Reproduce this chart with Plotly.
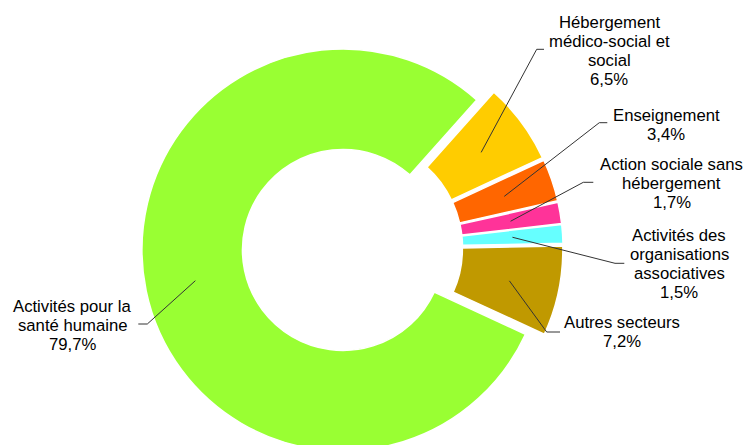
import math
import plotly.graph_objects as go

# ---- data ----
categories = [
    "Hébergement médico-social et social",
    "Enseignement",
    "Action sociale sans hébergement",
    "Activités des organisations associatives",
    "Autres secteurs",
    "Activités pour la santé humaine",
]
values = [6.5, 3.4, 1.7, 1.5, 7.2, 79.7]
value_labels = ["6,5%", "3,4%", "1,7%", "1,5%", "7,2%", "79,7%"]
label_lines = [
    ["Hébergement", "médico-social et", "social"],
    ["Enseignement"],
    ["Action sociale sans", "hébergement"],
    ["Activités des", "organisations", "associatives"],
    ["Autres secteurs"],
    ["Activités pour la", "santé humaine"],
]
colors = ["#FFCC00", "#FF6600", "#FF3399", "#66FFFF", "#C09900", "#99FF33"]

# ---- layout constants (pixels) ----
W, H = 745, 462
CX, CY = 352.4, 248.0
R = 201.0
HOLE = 0.5
PULL = 0.048
ROT = 41.7
LINE_H = 19.0
FONT = dict(family="Liberation Sans, Arial, sans-serif", size=16.7, color="#000000")

# label placement: (center x, first line center y, elbow x, elbow y, end x)
label_layout = [
    (609.0, 22.7, 536.7, 49.3, 544.0),
    (666.0, 115.0, 599.3, 122.7, 607.3),
    (671.5, 164.3, 583.3, 182.3, 593.3),
    (679.3, 235.0, 615.0, 263.3, 624.3),
    (622.0, 322.7, 546.7, 332.0, 560.0),
    (72.7, 306.0, 147.3, 324.0, 138.3),
]


def px(x):
    return x / W


def py(y):
    return 1 - y / H


half = R * (1 + PULL)
fig = go.Figure(
    go.Pie(
        labels=categories,
        values=values,
        sort=False,
        direction="clockwise",
        rotation=ROT,
        hole=HOLE,
        pull=PULL,
        marker=dict(colors=colors, line=dict(color="#FFFFFF", width=1.5)),
        textinfo="none",
        hoverinfo="label+percent",
        showlegend=False,
        domain=dict(
            x=[(CX - half) / W, (CX + half) / W],
            y=[max(0.0, 1 - (CY + half) / H), 1 - (CY - half) / H],
        ),
    )
)

total = sum(values)
cum = 0.0
annotations = []
shapes = []
for i, v in enumerate(values):
    mid = math.radians(ROT + 360.0 * (cum + v / 2) / total)
    cum += v
    dist = R * PULL + 0.75 * R
    sx = CX + dist * math.sin(mid)
    sy = CY - dist * math.cos(mid)
    lx, ly, ex, ey, endx = label_layout[i]
    shapes.append(
        dict(
            type="path",
            xref="paper",
            yref="paper",
            path=f"M {px(sx)} {py(sy)} L {px(ex)} {py(ey)} L {px(endx)} {py(ey)}",
            line=dict(color="#333333", width=1),
        )
    )
    lines = label_lines[i] + [value_labels[i]]
    for k, t in enumerate(lines):
        annotations.append(
            dict(
                text=t,
                x=px(lx),
                y=py(ly + k * LINE_H),
                xref="paper",
                yref="paper",
                xanchor="center",
                yanchor="middle",
                showarrow=False,
                font=FONT,
            )
        )

fig.update_layout(
    width=W,
    height=H,
    margin=dict(l=0, r=0, t=0, b=0),
    paper_bgcolor="#FFFFFF",
    plot_bgcolor="#FFFFFF",
    annotations=annotations,
    shapes=shapes,
)

fig.write_html(
    "out.html",
    config={"displayModeBar": False},
    post_script="document.body.style.margin='0';document.body.style.overflow='hidden';document.documentElement.style.overflow='hidden';",
)
